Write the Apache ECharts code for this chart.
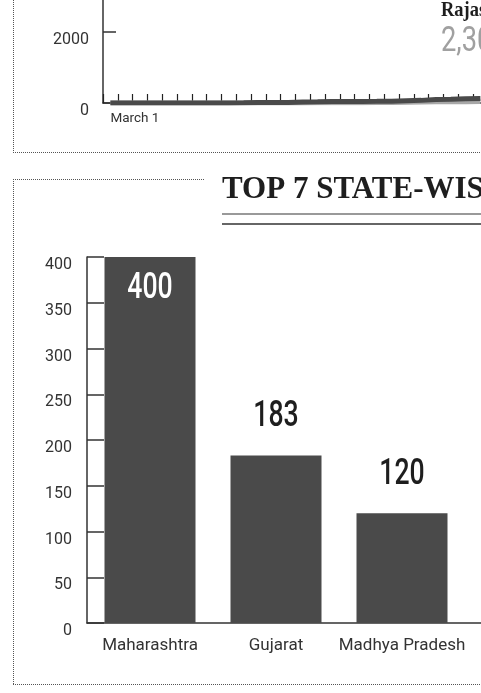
<!DOCTYPE html>
<html>
<head>
<meta charset="utf-8">
<script src="https://cdn.jsdelivr.net/npm/echarts@6/dist/echarts.min.js"></script>
<style>
    html, body { margin: 0; padding: 0; width: 481px; height: 693px; overflow: hidden; background: #fff; }
    /* the picture is a crop of a wider / taller graphic, so the canvas sticks out */
    #main { position: absolute; left: 0; top: -200px; width: 1000px; height: 893px; }
</style>
</head>
<body>
<div id="main"></div>
<script>
// daily totals, first days of the timeline (only this part is visible)
var days = [];
for (var d = 1; d <= 26; d++) days.push('March ' + d);
var maharashtraCases = [0, 0, 0, 0, 0, 0, 0, 0, 2, 5, 11, 14, 17, 26, 32, 39, 41, 45, 48, 52, 64, 74, 97, 107, 122, 130];
var rajasthanCases = [0, 0, 1, 1, 1, 1, 1, 1, 1, 2, 3, 3, 3, 3, 4, 4, 4, 7, 17, 17, 23, 28, 32, 32, 36, 41];

// top states bar chart
var states = ['Maharashtra', 'Gujarat', 'Madhya Pradesh'];
var stateValues = [400, 183, 120];

var titleText = 'TOP 7 STATE-WISE';
var calloutName = 'Rajasthan';
var calloutValue = '2,30';

var OFF = 200; // canvas is shifted up by this much
var axisColor = '#333';
var labelFont = 'Roboto';

var myChart = window.echarts.init(document.getElementById('main'));

function dotted(x1, y1, x2, y2) {
    return {
        type: 'line',
        shape: { x1: x1, y1: y1 + OFF, x2: x2, y2: y2 + OFF },
        style: { stroke: '#555', lineWidth: 1, lineDash: [1, 1] },
        silent: true
    };
}

var option = {
    animation: false,
    grid: [
        { left: 103, top: OFF - 39, width: 384.8, height: 142 },
        { left: 87, top: OFF + 257, width: 882, height: 366 }
    ],
    xAxis: [{
        gridIndex: 0,
        type: 'category',
        data: days,
        boundaryGap: true,
        axisLine: { lineStyle: { color: axisColor, width: 1.5 } },
        axisTick: {
            show: true,
            inside: true,
            length: 9,
            interval: function () { return true; },
            lineStyle: { color: '#222', width: 1.2 }
        },
        axisLabel: {
            interval: function (i) { return i === 0; },
            align: 'left',
            margin: 9,
            color: '#333',
            fontFamily: labelFont,
            fontSize: 13.5
        }
    }, {
        gridIndex: 1,
        type: 'category',
        data: states,
        max: 6,
        axisLine: { lineStyle: { color: axisColor, width: 1.5 } },
        axisTick: { inside: true, length: 9, interval: 0, lineStyle: { color: axisColor } },
        axisLabel: {
            interval: 0,
            margin: 14,
            color: '#333',
            fontFamily: labelFont,
            fontSize: 17
        }
    }],
    yAxis: [{
        gridIndex: 0,
        type: 'value',
        min: 0,
        max: 4000,
        interval: 2000,
        splitLine: { show: false },
        axisLine: { show: true, lineStyle: { color: axisColor, width: 1.5 } },
        axisTick: { show: true, inside: true, length: 13, lineStyle: { color: axisColor, width: 1.5 } },
        axisLabel: {
            formatter: function (v) { return String(v); },
            verticalAlign: 'top', margin: 14, color: '#333', fontFamily: labelFont, fontSize: 16
        }
    }, {
        gridIndex: 1,
        type: 'value',
        min: 0,
        max: 400,
        interval: 50,
        splitLine: { show: false },
        axisLine: { show: true, lineStyle: { color: axisColor, width: 1.5 } },
        axisTick: { show: true, inside: true, length: 17, lineStyle: { color: axisColor, width: 1.5 } },
        axisLabel: {
            formatter: function (v) { return String(v); },
            verticalAlign: 'top', margin: 15, color: '#333', fontFamily: labelFont, fontSize: 16
        }
    }],
    series: [{
        name: 'Rajasthan',
        type: 'line',
        xAxisIndex: 0,
        yAxisIndex: 0,
        data: rajasthanCases,
        symbol: 'none',
        lineStyle: { color: '#a8a8a8', width: 5 },
        z: 3
    }, {
        name: 'Maharashtra',
        type: 'line',
        xAxisIndex: 0,
        yAxisIndex: 0,
        data: maharashtraCases,
        symbol: 'none',
        lineStyle: { color: '#4a4a4a', width: 5 },
        z: 4
    }, {
        type: 'bar',
        xAxisIndex: 1,
        yAxisIndex: 1,
        data: stateValues,
        barWidth: 91,
        itemStyle: { color: '#4a4a4a' }
    }, {
        // value labels in a narrow figure style (squeezed horizontally)
        type: 'custom',
        xAxisIndex: 1,
        yAxisIndex: 1,
        data: stateValues.map(function (v, i) { return [i, v]; }),
        z: 10,
        renderItem: function (params, api) {
            var p = api.coord([api.value(0), api.value(1)]);
            var inside = params.dataIndex === 0;
            return {
                type: 'text',
                x: p[0],
                y: inside ? p[1] + 31.5 : p[1] - 38.5,
                scaleX: 0.72,
                style: {
                    text: String(api.value(1)),
                    fill: inside ? '#fff' : '#1e1e1e',
                    font: '500 37px Roboto',
                    align: 'center',
                    verticalAlign: 'middle'
                }
            };
        }
    }],
    graphic: [
        dotted(13.5, -OFF, 13.5, 152),
        dotted(13, 152.5, 481, 152.5),
        dotted(13, 179.5, 204, 179.5),
        dotted(13.5, 179, 13.5, 684),
        dotted(13, 684.5, 481, 684.5),
        {
            type: 'line',
            shape: { x1: 222, y1: 214 + OFF, x2: 481, y2: 214 + OFF },
            style: { stroke: '#777', lineWidth: 1.5 }
        },
        {
            type: 'line',
            shape: { x1: 222, y1: 224 + OFF, x2: 481, y2: 224 + OFF },
            style: { stroke: '#333', lineWidth: 1.5 }
        },
        {
            type: 'text',
            x: 222,
            y: 189.5 + OFF,
            style: {
                text: titleText,
                fill: '#1e1e1e',
                font: 'bold 31px "Liberation Serif", "DejaVu Serif", serif',
                verticalAlign: 'middle'
            }
        },
        {
            type: 'text',
            x: 441,
            y: 11 + OFF,
            scaleX: 0.88,
            style: {
                text: calloutName,
                fill: '#1e1e1e',
                font: 'bold 21px "Liberation Serif", "DejaVu Serif", serif',
                verticalAlign: 'middle'
            }
        },
        {
            type: 'text',
            x: 441,
            y: 42.5 + OFF,
            scaleX: 0.78,
            style: {
                text: calloutValue,
                fill: '#a0a0a0',
                font: '35px Roboto',
                verticalAlign: 'middle'
            }
        }
    ]
};

myChart.setOption(option);
</script>
</body>
</html>
